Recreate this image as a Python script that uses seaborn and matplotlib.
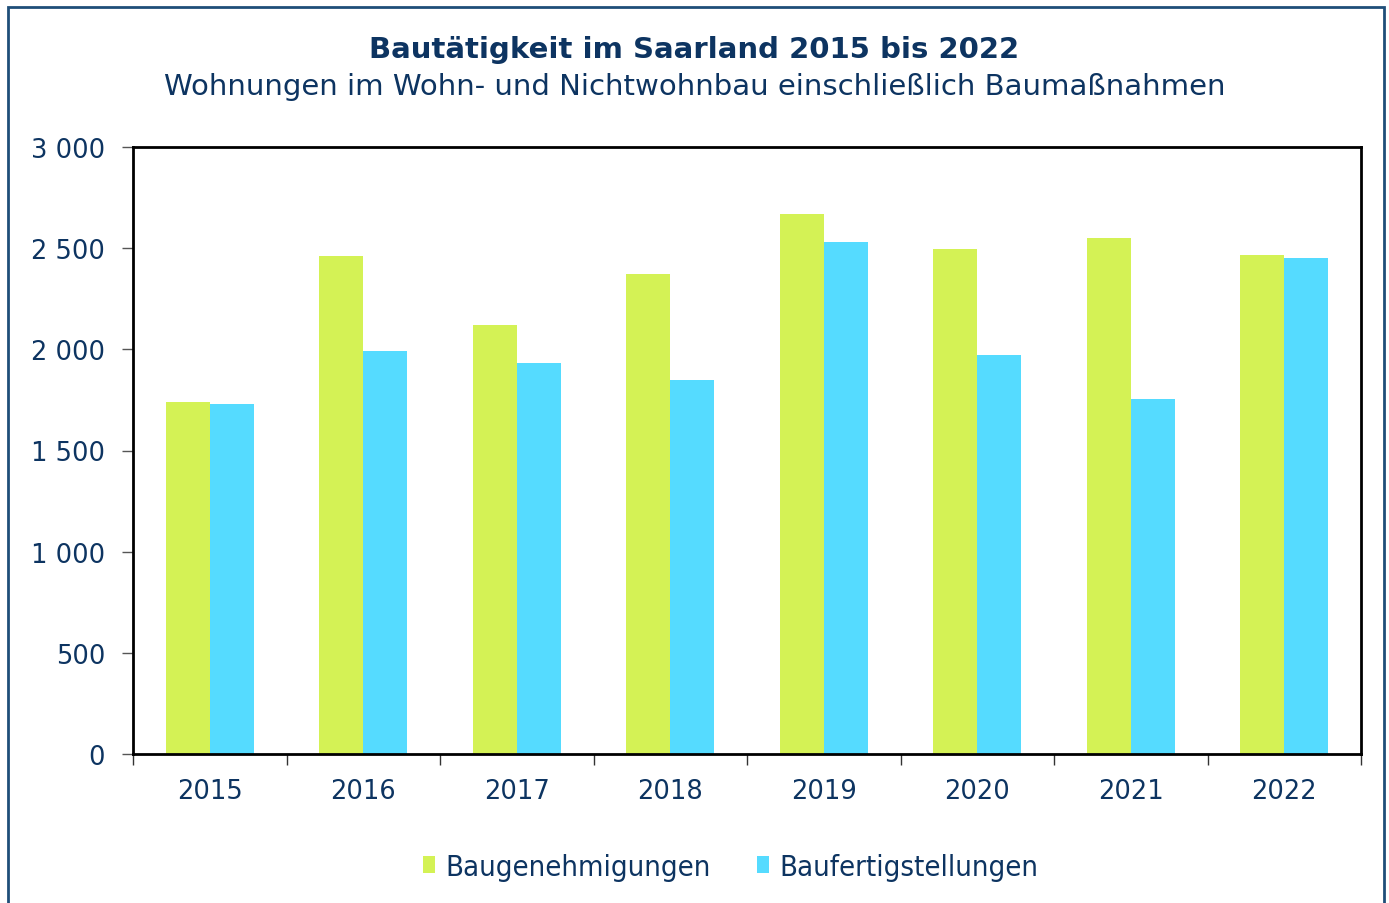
import matplotlib.pyplot as plt
import seaborn as sns
import pandas as pd
from matplotlib.patches import Rectangle
from matplotlib.ticker import FuncFormatter, MultipleLocator, FixedLocator

# Data
years = ["2015", "2016", "2017", "2018", "2019", "2020", "2021", "2022"]
genehmigungen = [1740, 2462, 2121, 2373, 2669, 2496, 2551, 2467]
fertigstellungen = [1730, 1992, 1933, 1849, 2531, 1972, 1755, 2452]
series = ["Baugenehmigungen", "Baufertigstellungen"]
colors = ["#d4f255", "#55dbff"]

navy = "#0d3461"

df = pd.DataFrame({
    "Jahr": years * 2,
    "Wohnungen": genehmigungen + fertigstellungen,
    "Reihe": [series[0]] * len(years) + [series[1]] * len(years),
})

sns.set_style("white")
plt.rcParams["font.family"] = ["DejaVu Sans"]

fig = plt.figure(figsize=(13.89, 9.04), dpi=100)
ax = fig.add_axes([133 / 1389, 1 - 755 / 904, (1361 - 133) / 1389, (755 - 148) / 904])

sns.barplot(data=df, x="Jahr", y="Wohnungen", hue="Reihe", palette=colors,
            width=0.573, saturation=1, ax=ax, legend=False,
            edgecolor="none", linewidth=0)

ax.set_ylim(0, 3000)
ax.set_xlim(-0.5, len(years) - 0.5)
ax.yaxis.set_major_locator(MultipleLocator(500))
ax.yaxis.set_major_formatter(FuncFormatter(lambda v, p: f"{int(v):,}".replace(",", " ")))
ax.set_xlabel("")
ax.set_ylabel("")

# category separators as ticks below the axis
ax.xaxis.set_minor_locator(FixedLocator([i - 0.5 for i in range(len(years) + 1)]))
ax.tick_params(axis="x", which="major", length=0, pad=17, labelsize=18.5, labelcolor=navy)
ax.tick_params(axis="x", which="minor", length=8, width=1, color="#333333", direction="out", bottom=True)
ax.tick_params(axis="y", which="major", length=8, width=1, color="#555555", direction="out",
               left=True, pad=12, labelsize=18.5, labelcolor=navy)

for s in ax.spines.values():
    s.set_visible(True)
    s.set_color("black")
    s.set_linewidth(2)

# titles
fig.text(0.5, 1 - 50 / 904, "Bautätigkeit im Saarland 2015 bis 2022", ha="center", va="center",
         fontsize=21, fontweight="bold", color=navy)
fig.text(0.5, 1 - 87 / 904, "Wohnungen im Wohn- und Nichtwohnbau einschließlich Baumaßnahmen",
         ha="center", va="center", fontsize=21, color=navy)

# legend
handles = [Rectangle((0, 0), 1, 1, facecolor=c, edgecolor="none") for c in colors]
leg = fig.legend(handles, series, loc="center", bbox_to_anchor=(0.526, 1 - 868 / 904), ncol=2,
                 frameon=False, handlelength=0.4, handleheight=0.5, handletextpad=0.35,
                 columnspacing=1.6, prop={"size": 21, "stretch": "condensed"})
for t in leg.get_texts():
    t.set_color(navy)

# outer frame
fig.patches.append(Rectangle((8 / 1389, -0.02), (1384 - 8) / 1389, 1.02 - 8 / 904,
                             transform=fig.transFigure, fill=False, edgecolor="#1f4e79",
                             linewidth=2))

fig.savefig("out.png", dpi=100)
